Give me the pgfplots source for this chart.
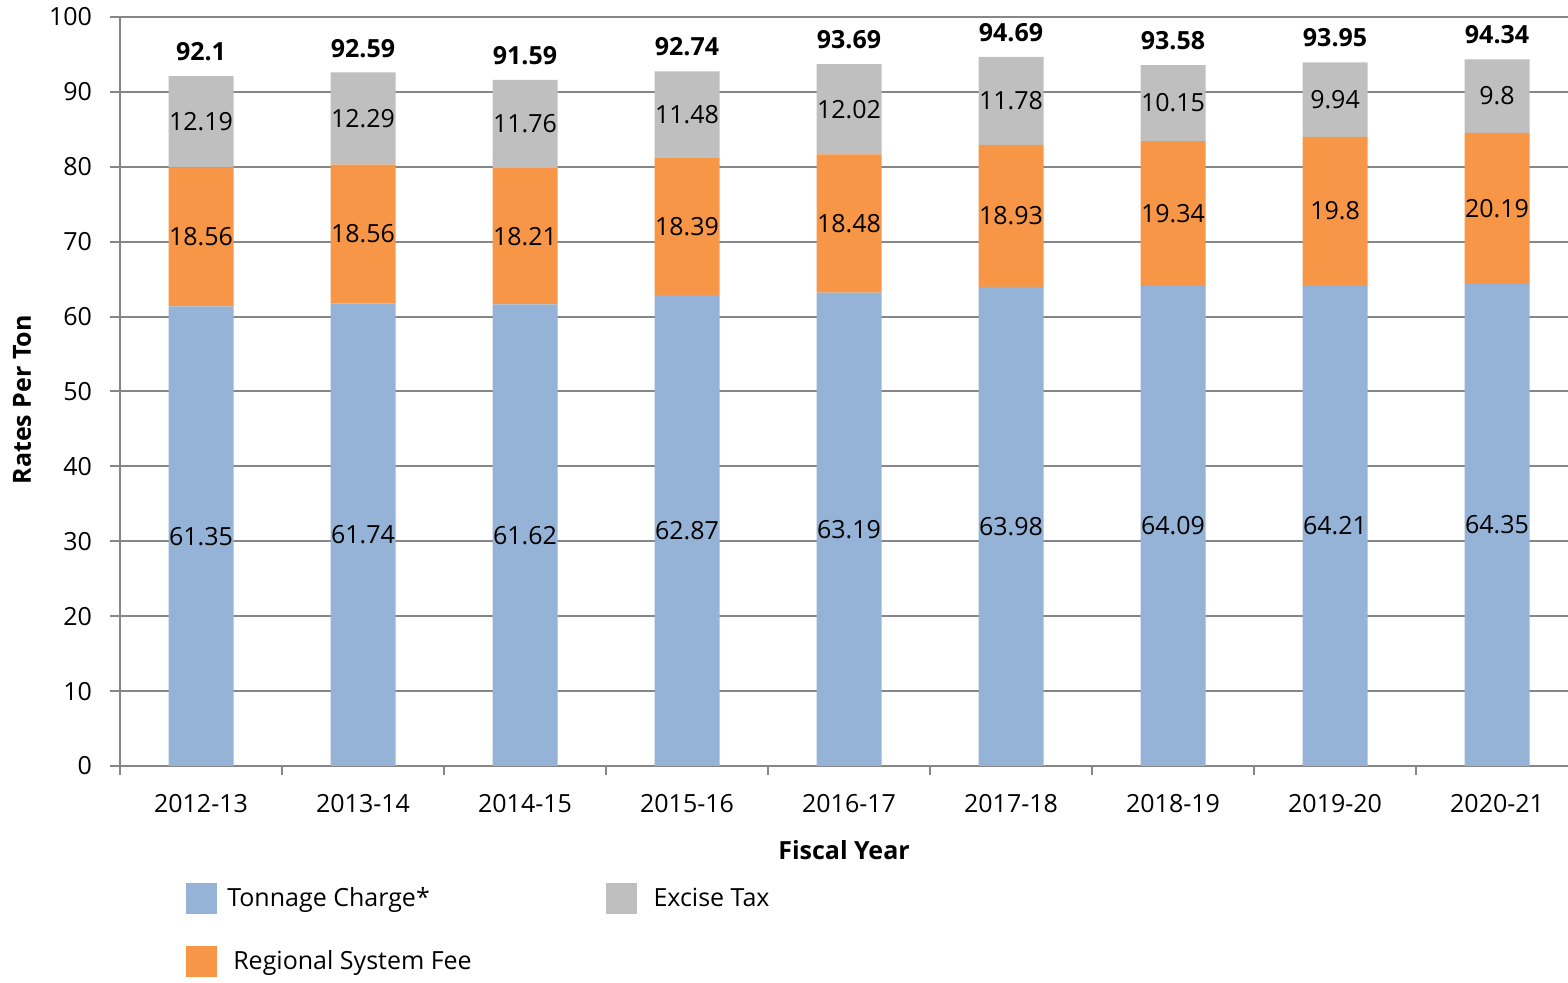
\documentclass[border=0pt]{standalone}
\usepackage{pgfplots}
\pgfplotsset{compat=1.18}
\usepackage{fontspec}
\setmainfont{Open Sans}
\definecolor{cblue}{HTML}{95B3D7}
\definecolor{corange}{HTML}{F79646}
\definecolor{cgray}{HTML}{BFBFBF}
\definecolor{gridc}{HTML}{868686}
\newcommand{\lblfont}{\fontsize{12.5}{15}\selectfont}
\begin{document}
\begin{tikzpicture}
\begin{axis}[
  at={(0,0)}, anchor=south west,
  scale only axis, width=724pt, height=374.5pt,
  ybar stacked, bar width=32.5pt,
  xmin=-0.5, xmax=8.438, ymin=0, ymax=100,
  ytick={0,10,...,100},
  xtick={0,...,8},
  xticklabels={2012-13,2013-14,2014-15,2015-16,2016-17,2017-18,2018-19,2019-20,2020-21},
  minor xtick={-0.5,0.5,...,7.5},
  axis x line*=bottom, axis y line*=left,
  axis line style={draw=gridc, line width=1pt},
  ymajorgrids, grid style={draw=gridc, line width=1pt},
  tick style={draw=gridc, line width=1pt},
  tick align=outside, major tick length=5pt, minor tick length=4.5pt,
  major x tick style={draw=none},
  tick label style={font=\lblfont, text=black},
  xticklabel style={yshift=-5.5pt},
  yticklabel style={xshift=-5.5pt},
  /pgf/number format/assume math mode=true,
  xlabel={\bfseries Fiscal Year},
  ylabel={\bfseries Rates Per Ton},
  every axis x label/.style={at={(axis description cs:0.5,-0.1121)}, anchor=center, font=\lblfont},
  every axis y label/.style={at={(axis description cs:-0.0677,0.489)}, rotate=90, anchor=center, font=\lblfont},
  legend columns=2,
  legend cell align=left,
  legend style={draw=none, fill=none, font=\lblfont,
    at={(axis description cs:0.0415,-0.151)}, anchor=north west,
    row sep=16pt,
    /tikz/every odd column/.append style={column sep=3pt},
    /tikz/every even column/.append style={column sep=65pt}},
  nodes near coords style={font=\lblfont, text=black},
]
\addplot[fill=cblue, draw=none, forget plot,
  nodes near coords, point meta=explicit symbolic]
  coordinates {(0,61.35)[61.35] (1,61.74)[61.74] (2,61.62)[61.62] (3,62.87)[62.87] (4,63.19)[63.19] (5,63.98)[63.98] (6,64.09)[64.09] (7,64.21)[64.21] (8,64.35)[64.35]};
\addplot[fill=corange, draw=none, forget plot,
  nodes near coords, point meta=explicit symbolic]
  coordinates {(0,18.56)[18.56] (1,18.56)[18.56] (2,18.21)[18.21] (3,18.39)[18.39] (4,18.48)[18.48] (5,18.93)[18.93] (6,19.34)[19.34] (7,19.8)[19.8] (8,20.19)[20.19]};
\addplot[fill=cgray, draw=none, forget plot,
  nodes near coords, point meta=explicit symbolic]
  coordinates {(0,12.19)[12.19] (1,12.29)[12.29] (2,11.76)[11.76] (3,11.48)[11.48] (4,12.02)[12.02] (5,11.78)[11.78] (6,10.15)[10.15] (7,9.94)[9.94] (8,9.8)[9.8]};
\addplot[draw=none, fill=none, forget plot,
  nodes near coords, point meta=explicit symbolic,
  nodes near coords style={anchor=south, font=\lblfont\bfseries, text=black, yshift=4pt}]
  coordinates {(0,0.001)[92.1] (1,0.001)[92.59] (2,0.001)[91.59] (3,0.001)[92.74] (4,0.001)[93.69] (5,0.001)[94.69] (6,0.001)[93.58] (7,0.001)[93.95] (8,0.001)[94.34]};
\addlegendimage{legend image code/.code={\fill[cblue] (0pt,-7.5pt) rectangle (15pt,7.5pt);}}
\addlegendentry{Tonnage Charge*}
\addlegendimage{legend image code/.code={\fill[cgray] (0pt,-7.5pt) rectangle (15pt,7.5pt);}}
\addlegendentry{\hspace{3.5pt}Excise Tax}
\addlegendimage{legend image code/.code={\fill[corange] (0pt,-7.5pt) rectangle (15pt,7.5pt);}}
\addlegendentry{\hspace{3pt}Regional System Fee}
\end{axis}
\pgfresetboundingbox
\path[use as bounding box] (-60pt,-108.5pt) rectangle (724pt,383pt);
\end{tikzpicture}
\end{document}
